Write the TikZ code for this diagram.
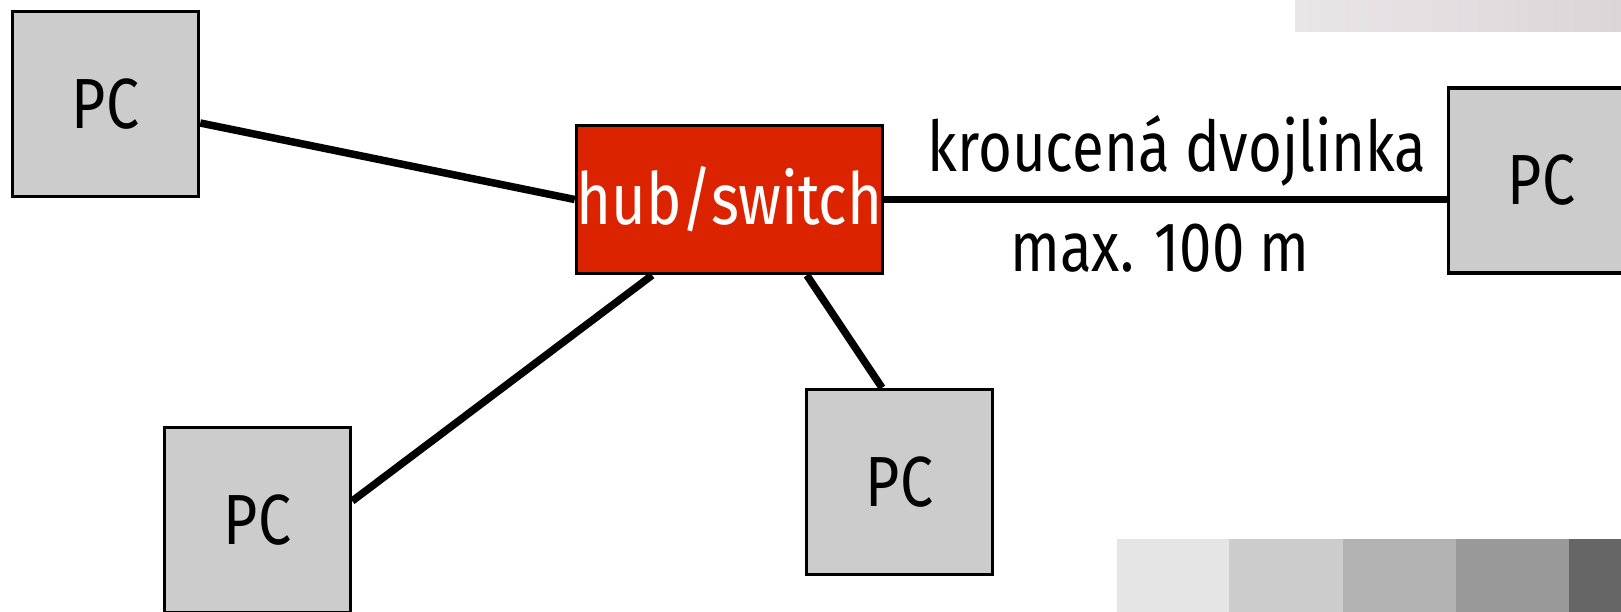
\documentclass[tikz,border=0pt]{standalone}
\usepackage{fontspec}
\setmainfont{Fira Sans}[FakeStretch=0.83]
\usetikzlibrary{calc}
\definecolor{pcgray}{HTML}{CCCCCC}
\definecolor{hubred}{HTML}{DC2300}
\definecolor{stripa}{HTML}{E5E5E5}
\definecolor{stripb}{HTML}{CCCCCC}
\definecolor{stripc}{HTML}{B3B3B3}
\definecolor{stripd}{HTML}{999999}
\definecolor{stripe}{HTML}{666666}
\definecolor{topl}{HTML}{E9E6E8}
\definecolor{topr}{HTML}{DCD5D8}
\tikzset{
  pcbox/.style={draw=black, line width=3.5pt, fill=pcgray, rectangle,
    minimum width=186pt, minimum height=185pt, inner sep=0pt,
    font=\fontsize{71}{80}\selectfont},
  hubbox/.style={draw=black, line width=3.5pt, fill=hubred, rectangle,
    minimum width=300pt, minimum height=148pt, inner sep=0pt,
    text=white, font=\fontsize{72}{80}\selectfont},
  cable/.style={line width=7.5pt, black},
  lbl/.style={anchor=base, inner sep=0pt, font=\fontsize{70}{80}\selectfont}
}
\begin{document}
\begin{tikzpicture}[x=1pt,y=-1pt]
\clip (0,0) rectangle (1621,612);
\fill[white] (0,0) rectangle (1621,612);
% decorative strips
\shade[left color=topl, right color=topr] (1295,0) rectangle (1621,32);
\fill[stripa] (1117,539) rectangle (1229,612);
\fill[stripb] (1229,539) rectangle (1343,612);
\fill[stripc] (1343,539) rectangle (1456,612);
\fill[stripd] (1456,539) rectangle (1569,612);
\fill[stripe] (1569,539) rectangle (1621,612);
% nodes
\node[hubbox] (hub) at (729.5,199.5) {hub/switch};
\node[pcbox] (pc1) at (105.5,104) {PC};
\node[pcbox] (pc2) at (1541.5,180.5) {PC};
\node[pcbox] (pc3) at (257.5,520) {PC};
\node[pcbox] (pc4) at (899.5,482) {PC};
% connectors
\draw[cable] (pc1.east |- 0,123) -- (hub.west);
\draw[cable] (hub.east) -- (pc2.west |- hub.east);
\coordinate (hubsl) at ($(hub.south west)!0.25!(hub.south east)$);
\coordinate (hubsr) at ($(hub.south west)!0.75!(hub.south east)$);
\draw[cable] (hubsl) -- (pc3.east |- 0,501);
\draw[cable] (hubsr) -- (pc4.north -| 882,0);
% labels
\node[lbl] (l1) at (1177,172) {kroucená dvojlinka};
\node[lbl] (l2) at (1160,271) {max. 100 m};
\end{tikzpicture}
\end{document}
